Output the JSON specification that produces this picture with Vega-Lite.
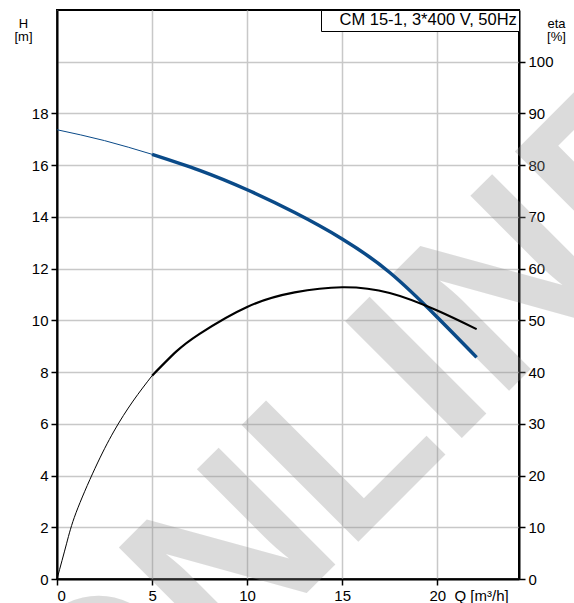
{
  "$schema": "https://vega.github.io/schema/vega-lite/v6.json",
  "width": 462,
  "height": 569,
  "autosize": {"type": "none"},
  "padding": {"left": 57, "top": 10, "right": 55, "bottom": 24},
  "config": {
    "font": "Liberation Sans",
    "view": {"stroke": "black", "strokeWidth": 2},
    "axis": {
      "domainColor": "black",
      "domainWidth": 2,
      "tickColor": "black",
      "tickWidth": 1.5,
      "tickSize": 6,
      "labelColor": "black",
      "labelFontSize": 15,
      "labelPadding": 3,
      "gridColor": "#c8c8c8",
      "gridWidth": 1.5,
      "titleColor": "black",
      "titleFontWeight": "normal",
      "titleFontSize": 13
    }
  },
  "datasets": {
    "head": [
      {"Q": 0, "H": 17.37, "part": "thin"},
      {"Q": 2.5, "H": 16.95, "part": "thin"},
      {"Q": 5, "H": 16.42, "part": "thin"},
      {"Q": 5, "H": 16.42, "part": "thick"},
      {"Q": 7.5, "H": 15.8, "part": "thick"},
      {"Q": 10, "H": 15.05, "part": "thick"},
      {"Q": 12.5, "H": 14.17, "part": "thick"},
      {"Q": 15, "H": 13.15, "part": "thick"},
      {"Q": 17.5, "H": 11.85, "part": "thick"},
      {"Q": 20, "H": 10.12, "part": "thick"},
      {"Q": 22.07, "H": 8.57, "part": "thick"}
    ],
    "eff": [
      {"Q": 0, "eta": 0, "part": "thin"},
      {"Q": 0.5, "eta": 6.8, "part": "thin"},
      {"Q": 1, "eta": 12.8, "part": "thin"},
      {"Q": 2, "eta": 21.4, "part": "thin"},
      {"Q": 3, "eta": 28.6, "part": "thin"},
      {"Q": 4, "eta": 34.4, "part": "thin"},
      {"Q": 5, "eta": 39.3, "part": "thin"},
      {"Q": 5, "eta": 39.3, "part": "thick"},
      {"Q": 6.25, "eta": 43.9, "part": "thick"},
      {"Q": 7.5, "eta": 47.4, "part": "thick"},
      {"Q": 10, "eta": 52.6, "part": "thick"},
      {"Q": 12.5, "eta": 55.4, "part": "thick"},
      {"Q": 15, "eta": 56.4, "part": "thick"},
      {"Q": 17.5, "eta": 55.3, "part": "thick"},
      {"Q": 20, "eta": 51.9, "part": "thick"},
      {"Q": 22.07, "eta": 48.3, "part": "thick"}
    ],
    "stamp": [
      {"Q": 18.72, "H": 3.56, "label": "ONLINE"}
    ]
  },
  "encoding": {
    "x": {
      "field": "Q",
      "type": "quantitative",
      "scale": {"domain": [0, 24.3], "nice": false, "zero": false},
      "axis": {
        "values": [0, 5, 10, 15, 20],
        "grid": true,
        "title": "Q [m³/h]",
        "titleFontSize": 15,
        "titleAlign": "left",
        "titleBaseline": "top",
        "titleX": 397,
        "titleY": 9
      }
    }
  },
  "layer": [
    {
      "encoding": {
        "y": {
          "field": "H",
          "type": "quantitative",
          "scale": {"domain": [0, 22], "nice": false},
          "axis": {
            "values": [0, 2, 4, 6, 8, 10, 12, 14, 16, 18],
            "grid": false,
            "title": ["H", "[m]"],
            "titleAngle": 0,
            "titleAlign": "center",
            "titleBaseline": "top",
            "titleLineHeight": 13.5,
            "titleX": -34,
            "titleY": 7
          }
        }
      },
      "layer": [
        {
          "data": {"name": "stamp"},
          "mark": {
            "type": "text",
            "font": "Liberation Sans",
            "fontWeight": "bold",
            "fontSize": 240,
            "angle": -45,
            "align": "center",
            "baseline": "alphabetic",
            "fill": "#8c8c8c",
            "opacity": 0.3
          },
          "encoding": {"text": {"field": "label"}}
        },
        {
          "data": {"name": "head"},
          "mark": {"type": "line", "interpolate": "natural", "strokeCap": "butt"},
          "encoding": {
            "detail": {"field": "part"},
            "strokeWidth": {
              "field": "part",
              "type": "nominal",
              "scale": {"domain": ["thin", "thick"], "range": [1, 3.5]},
              "legend": null
            },
            "color": {
              "datum": "CM 15-1, 3*400 V, 50Hz",
              "type": "nominal",
              "scale": {"range": ["#0a4a88"]},
              "legend": {
                "title": null,
                "orient": "top-right",
                "offset": 0,
                "padding": 2,
                "strokeColor": "black",
                "fillColor": "white",
                "cornerRadius": 0,
                "symbolType": "circle",
                "symbolSize": 0.01,
                "symbolStrokeWidth": 0,
                "symbolOpacity": 0,
                "labelOffset": 0,
                "labelFontSize": 16.5,
                "labelColor": "black",
                "labelLimit": 400
              }
            }
          }
        }
      ]
    },
    {
      "data": {"name": "eff"},
      "mark": {"type": "line", "interpolate": "natural", "color": "black", "strokeCap": "butt"},
      "encoding": {
        "y": {
          "field": "eta",
          "type": "quantitative",
          "scale": {"domain": [0, 110], "nice": false},
          "axis": {
            "orient": "right",
            "values": [0, 10, 20, 30, 40, 50, 60, 70, 80, 90, 100],
            "grid": true,
            "title": ["eta", "[%]"],
            "titleAngle": 0,
            "titleAlign": "center",
            "titleBaseline": "top",
            "titleLineHeight": 13.5,
            "titleX": 37,
            "titleY": 7
          }
        },
        "detail": {"field": "part"},
        "strokeWidth": {
          "field": "part",
          "type": "nominal",
          "scale": {"domain": ["thin", "thick"], "range": [1, 2.2]},
          "legend": null
        }
      }
    }
  ],
  "resolve": {"scale": {"y": "independent", "strokeWidth": "independent"}}
}
